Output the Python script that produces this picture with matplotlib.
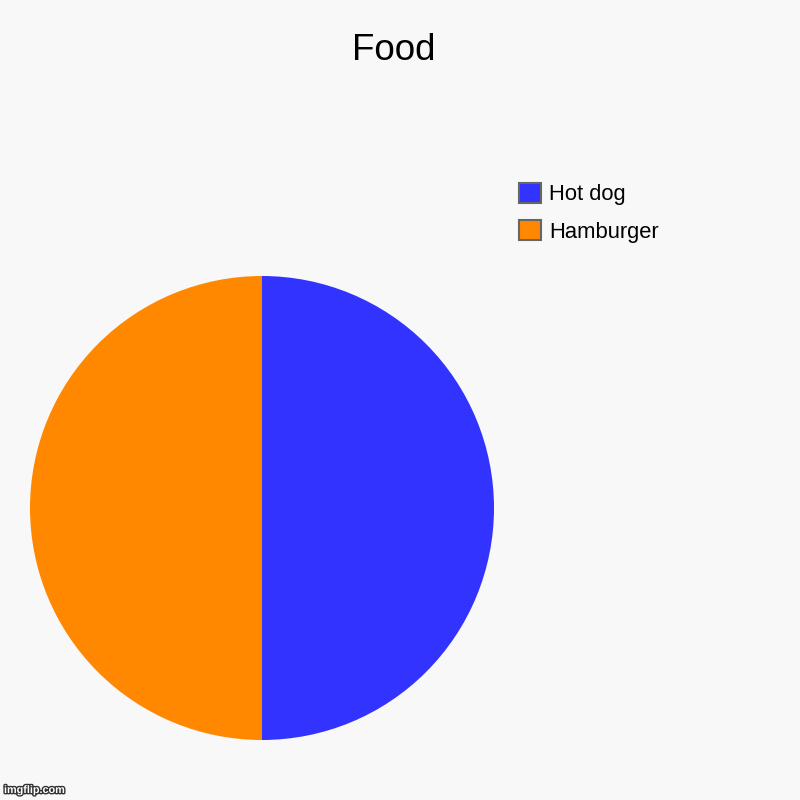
import matplotlib
matplotlib.use('Agg')
import matplotlib.pyplot as plt
import matplotlib.patheffects as pe

# dados do gráfico
categorias = ['Hot dog', 'Hamburger']
valores = [50, 50]
cores = ['#3333ff', '#ff8800']
titulo = 'Food'

plt.rcParams['font.family'] = ['Liberation Sans', 'DejaVu Sans']

fig = plt.figure(figsize=(8, 8), dpi=100, facecolor='#f8f8f8')

# eixo do pie: centro em (262, 508) px, raio ~232 px
cx, cy, r = 262 / 800, 1 - 508 / 800, 232 / 800
ax = fig.add_axes([cx - r, cy - r, 2 * r, 2 * r])
ax.set_facecolor('#f8f8f8')
fatias, _ = ax.pie(valores, colors=cores, startangle=90, counterclock=False,
                   radius=1, wedgeprops=dict(linewidth=0))
ax.set_xlim(-1, 1)
ax.set_ylim(-1, 1)
ax.set_aspect('equal')
ax.axis('off')

fig.text(394 / 800, 1 - 50 / 800, titulo, ha='center', va='center', fontsize=26.5, color='black')

# legenda
leg = fig.legend(fatias, categorias, loc='upper left', bbox_to_anchor=(519 / 800, 1 - 183 / 800),
                 frameon=False, fontsize=15.8, handlelength=1.0, handleheight=1.0,
                 handletextpad=0.36, labelspacing=0.68, borderpad=0, borderaxespad=0)
for h in leg.legend_handles:
    h.set_linewidth(1.5)
    h.set_edgecolor('#666666')

# marca d'água
fig.text(4 / 800, 5 / 800, 'imgflip.com', ha='left', va='bottom', fontsize=7.8, fontweight='bold',
         color='white', path_effects=[pe.withStroke(linewidth=2, foreground='#333333')])

fig.savefig('out.png', dpi=100, facecolor=fig.get_facecolor())
